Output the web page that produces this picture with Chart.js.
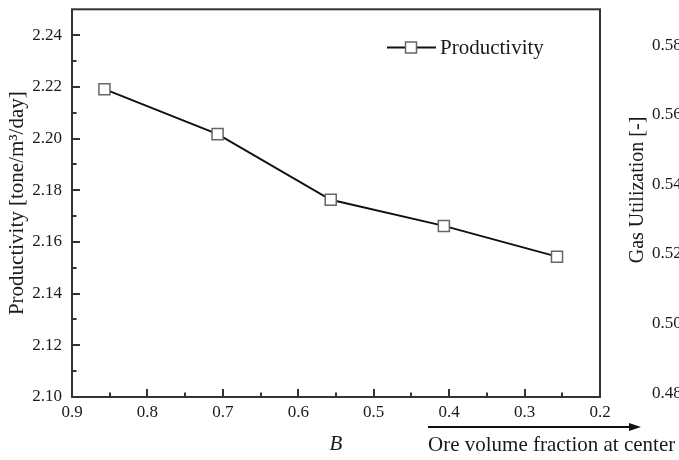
<!DOCTYPE html>
<html><head><meta charset="utf-8">
<script src="https://cdn.jsdelivr.net/npm/chart.js@4"></script>
<style>
html,body{margin:0;padding:0;overflow:hidden;background:#fff;width:679px;height:460px}
#wrap{width:700px;height:460px}
</style></head>
<body><div id="wrap"><canvas id="c" width="700" height="460" style="width:700px;height:460px"></canvas></div>
<script>
const bValues = [0.857, 0.707, 0.557, 0.407, 0.257];
const productivity = [2.2191, 2.2017, 2.1763, 2.1662, 2.1543];
const xTicks = [0.9, 0.8, 0.7, 0.6, 0.5, 0.4, 0.3, 0.2];
const xMinor = [0.85, 0.75, 0.65, 0.55, 0.45, 0.35, 0.25];
const leftTicks = [2.10, 2.12, 2.14, 2.16, 2.18, 2.20, 2.22, 2.24];
const leftMinor = [2.11, 2.13, 2.15, 2.17, 2.19, 2.21, 2.23];
const rightTicks = [0.48, 0.50, 0.52, 0.54, 0.56, 0.58];
const seriesName = 'Productivity';
const leftTitle = 'Productivity [tone/m\u00B3/day]';
const rightTitle = 'Gas Utilization [-]';
const xTitle = 'B';
const xSubTitle = 'Ore volume fraction at center';

const SERIF = "'Liberation Serif', 'DejaVu Serif', serif";
const TXT = '#1a1a1a';
const FRAME = '#333333';

const decor = {
  id: 'decor',
  beforeDatasetsDraw(chart) {
    const {ctx, chartArea: a, scales} = chart;
    const x = scales.x, y = scales.y;
    ctx.save();
    ctx.strokeStyle = FRAME;
    ctx.lineWidth = 2;
    ctx.lineCap = 'butt';
    ctx.beginPath();
    leftTicks.forEach(v => { const py = Math.round(y.getPixelForValue(v)); ctx.moveTo(a.left, py); ctx.lineTo(a.left + 8, py); });
    leftMinor.forEach(v => { const py = Math.round(y.getPixelForValue(v)); ctx.moveTo(a.left, py); ctx.lineTo(a.left + 4.5, py); });
    xTicks.forEach(v => { const px = Math.round(x.getPixelForValue(v)); ctx.moveTo(px, a.bottom); ctx.lineTo(px, a.bottom - 8); });
    xMinor.forEach(v => { const px = Math.round(x.getPixelForValue(v)); ctx.moveTo(px, a.bottom); ctx.lineTo(px, a.bottom - 4.5); });
    ctx.stroke();
    ctx.strokeRect(a.left, a.top, a.right - a.left, a.bottom - a.top);
    ctx.restore();
  },
  afterDraw(chart) {
    const {ctx} = chart;
    ctx.save();
    ctx.fillStyle = TXT;
    ctx.save();
    ctx.font = '20px ' + SERIF;
    ctx.translate(638, 190);
    ctx.rotate(-Math.PI / 2);
    ctx.textAlign = 'center';
    ctx.textBaseline = 'middle';
    ctx.fillText(rightTitle, 0, 0);
    ctx.restore();
    ctx.font = '21px ' + SERIF;
    ctx.strokeStyle = '#111';
    ctx.lineWidth = 2;
    ctx.beginPath();
    ctx.moveTo(428, 427);
    ctx.lineTo(632, 427);
    ctx.stroke();
    ctx.beginPath();
    ctx.moveTo(641, 427);
    ctx.lineTo(629, 423);
    ctx.lineTo(629, 431);
    ctx.closePath();
    ctx.fillStyle = '#111';
    ctx.fill();
    ctx.fillStyle = TXT;
    ctx.textAlign = 'left';
    ctx.textBaseline = 'middle';
    ctx.fillText(xSubTitle, 428, 445);
    ctx.strokeStyle = '#111';
    ctx.lineWidth = 2;
    ctx.beginPath();
    ctx.moveTo(387, 47.5); ctx.lineTo(405, 47.5);
    ctx.moveTo(417, 47.5); ctx.lineTo(436, 47.5);
    ctx.stroke();
    ctx.strokeStyle = '#666';
    ctx.lineWidth = 1.5;
    ctx.fillStyle = '#fff';
    ctx.fillRect(405.5, 42, 11, 11);
    ctx.strokeRect(405.5, 42, 11, 11);
    ctx.fillStyle = TXT;
    ctx.fillText(seriesName, 440, 48);
    ctx.restore();
  }
};

function fixV(w) {
  return s => { s.width = w; s.paddingTop = 0; s.paddingBottom = 0; };
}

new Chart(document.getElementById('c'), {
  type: 'line',
  data: {
    datasets: [{
      label: seriesName,
      data: bValues.map((b, i) => ({x: b, y: productivity[i]})),
      borderColor: '#111',
      borderWidth: 2,
      pointStyle: 'rect',
      pointRadius: 7.8,
      pointHoverRadius: 7.8,
      pointBackgroundColor: '#fff',
      pointBorderColor: '#666',
      pointBorderWidth: 1.5,
      tension: 0,
      yAxisID: 'y'
    }]
  },
  plugins: [decor],
  options: {
    responsive: false,
    animation: false,
    devicePixelRatio: 1,
    layout: {padding: {top: 7, left: 0, right: 0, bottom: 0}},
    plugins: {legend: {display: false}, tooltip: {enabled: false}},
    scales: {
      x: {
        type: 'linear', position: 'bottom', reverse: true, min: 0.2, max: 0.9,
        afterBuildTicks: s => { s.ticks = xTicks.map(v => ({value: v})); },
        afterFit: s => { s.height = 63; s.paddingLeft = 0; s.paddingRight = 0; },
        grid: {display: false, drawTicks: false},
        border: {display: false},
        ticks: {color: TXT, font: {family: SERIF, size: 17}, padding: 5, maxRotation: 0,
          callback: v => Number(v).toFixed(1)},
        title: {display: true, text: xTitle, color: TXT,
          font: {family: SERIF, size: 21, style: 'italic'}, padding: {top: 0, bottom: 3}}
      },
      y: {
        type: 'linear', position: 'left', min: 2.10, max: 2.25,
        afterBuildTicks: s => { s.ticks = leftTicks.map(v => ({value: v})); },
        afterFit: fixV(72),
        grid: {display: false, drawTicks: false},
        border: {display: false},
        ticks: {color: TXT, font: {family: SERIF, size: 17}, padding: 10,
          callback: v => Number(v).toFixed(2)},
        title: {display: true, text: leftTitle, color: TXT,
          font: {family: SERIF, size: 21}, padding: {top: 5, bottom: 0}}
      },
      y2: {
        type: 'linear', position: 'right', min: 0.4789, max: 0.5903,
        afterBuildTicks: s => { s.ticks = rightTicks.map(v => ({value: v})); },
        afterFit: fixV(100),
        grid: {display: false, drawTicks: false},
        border: {display: false},
        ticks: {color: TXT, font: {family: SERIF, size: 17}, padding: 52,
          callback: v => Number(v).toFixed(2)}
      }
    }
  }
});
</script>
</body></html>
